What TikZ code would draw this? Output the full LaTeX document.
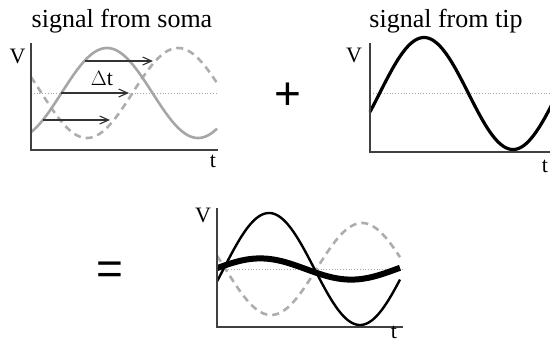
\documentclass[tikz,border=0pt]{standalone}
\usepackage{fontspec}
\setmainfont{Liberation Serif}
\newfontfamily\symfont{Liberation Sans}
\usetikzlibrary{arrows.meta}
\begin{document}
\begin{tikzpicture}[x=1pt,y=-1pt,
  axis/.style={draw=black!75,line width=1.4pt},
  midline/.style={draw=black!35,line width=0.8pt,dotted},
  somacurve/.style={draw=black!35,line width=2.6pt},
  delayed/.style={draw=black!32,line width=2.6pt,dash pattern=on 7pt off 5pt},
  tipcurve/.style={draw=black,line width=3.2pt},
  sumthin/.style={draw=black,line width=2.4pt},
  sumthick/.style={draw=black,line width=6pt},
  shiftarrow/.style={draw=black!80,line width=1.1pt,-{Straight Barb[length=9pt,width=8pt,line width=1.1pt]}},
  title/.style={font=\fontsize{26}{29}\selectfont,anchor=base,inner sep=0pt},
  axlabel/.style={font=\fontsize{22}{24}\selectfont,anchor=base,inner sep=0pt},
  opsym/.style={font=\symfont\fontsize{46}{50}\selectfont,inner sep=0pt}]
\useasboundingbox (0,0) rectangle (550,349);

% ---------- panel 1: signal from soma ----------
\node[title] (t1) at (122,27) {signal from soma};
\coordinate (o1) at (31,150);
\coordinate (y1) at (31,43);
\coordinate (x1) at (218,150);
\draw[midline] (31,93) -- (218,93);
\draw[delayed] plot[domain=31:217,samples=120] (\x,{93-45*cos(1.978*(\x-178))});
\draw[somacurve] plot[domain=31:217,samples=120] (\x,{93-45*cos(1.978*(\x-107))});
\coordinate (a1s) at (85,61);  \coordinate (a1e) at (153,61);
\coordinate (a2s) at (61,93);  \coordinate (a2e) at (129,93);
\coordinate (a3s) at (43,120); \coordinate (a3e) at (110,120);
\draw[shiftarrow] (a1s) -- (a1e);
\draw[shiftarrow] (a2s) -- (a2e);
\draw[shiftarrow] (a3s) -- (a3e);
\node[axlabel] (dt) at (102,85) {$\Delta$t};
\draw[axis] (y1) -- (o1) -- (x1);
\node[axlabel] (v1) at (17.5,63) {V};
\node[axlabel] (tt1) at (213,167) {t};

% ---------- plus ----------
\node[opsym] (plus) at (288,96) {+};

% ---------- panel 2: signal from tip ----------
\node[title] (t2) at (446,27) {signal from tip};
\coordinate (o2) at (370,152);
\coordinate (y2) at (370,43);
\coordinate (x2) at (551,152);
\draw[midline] (370,93) -- (551,93);
\draw[tipcurve] plot[domain=370:552,samples=120] (\x,{93.5-56*cos(2.022*(\x-424))});
\draw[axis] (y2) -- (o2) -- (x2);
\node[axlabel] (v2) at (354,62) {V};
\node[axlabel] (tt2) at (545,172) {t};

% ---------- equals ----------
\node[opsym] (eq) at (110,273) {=};

% ---------- panel 3: sum ----------
\coordinate (o3) at (217,327);
\coordinate (y3) at (217,208);
\coordinate (x3) at (403,327);
\draw[midline] (217,269) -- (403,269);
\draw[delayed] plot[domain=217:400,samples=120] (\x,{269-46*cos(1.978*(\x-362))});
\draw[sumthin] plot[domain=217:400,samples=120] (\x,{269-56*cos(1.978*(\x-269))});
\draw[sumthick] plot[domain=217:400,samples=120] (\x,{269-56*cos(1.978*(\x-269))-46*cos(1.978*(\x-362))});
\draw[axis] (y3) -- (o3) -- (x3);
\node[axlabel] (v3) at (203,222) {V};
\node[axlabel] (tt3) at (394,338) {t};
\end{tikzpicture}
\end{document}
